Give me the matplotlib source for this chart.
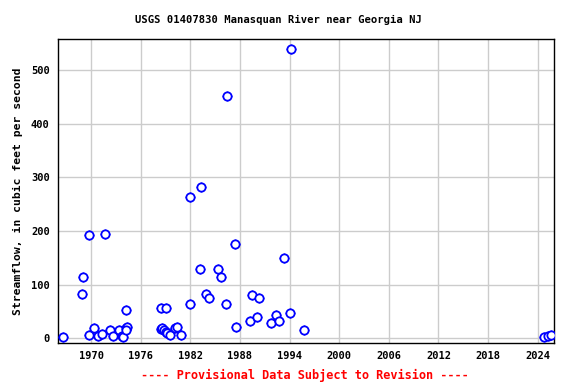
"""Peak streamflow scatter for USGS 01407830 Manasquan River near Georgia NJ."""

import matplotlib

matplotlib.use("Agg")
import matplotlib.pyplot as plt

years = [
    1966.6, 1968.9, 1969.0, 1969.7, 1969.8, 1970.4, 1970.8, 1971.3, 1971.7,
    1972.3, 1972.7, 1973.4, 1973.7, 1973.8, 1974.2, 1974.2, 1974.3, 1974.2,
    1978.5, 1979.1, 1978.4, 1978.6, 1978.8, 1979.1, 1979.2, 1979.5, 1980.1,
    1980.4, 1980.9, 1982.0, 1982.0, 1983.3, 1983.2, 1983.9, 1984.3, 1985.4,
    1985.7, 1986.4, 1986.3, 1987.4, 1987.5, 1989.4, 1990.3, 1989.2, 1990.1,
    1991.8, 1992.4, 1992.7, 1993.3, 1994.1, 1994.2, 1995.7, 2024.7, 2025.3,
    2025.6,
]
flows = [
    2, 82, 114, 192, 6, 19, 4, 9, 194,
    15, 4, 15, 4, 3, 53, 20, 22, 16,
    56, 56, 18, 19, 15, 12, 10, 6, 19,
    22, 6, 263, 65, 282, 129, 82, 76, 130,
    114, 451, 65, 175, 21, 80, 75, 32, 39,
    28, 43, 32, 150, 47, 539, 15, 2, 4,
    6,
]
x_ticks = list(range(1970, 2025, 6))
y_ticks = [0, 100, 200, 300, 400, 500]

MONO = "DejaVu Sans Mono"

fig = plt.figure(figsize=(5.76, 3.84), dpi=100)
ax = fig.add_axes([0.1007, 0.1076, 0.8616, 0.7908])

ax.plot(years, flows, linestyle="none", marker="+", markersize=7.5,
        markeredgewidth=1.0, color="#0000ff", zorder=3)
ax.plot(years, flows, linestyle="none", marker="o", markersize=6,
        markerfacecolor="white", markeredgecolor="#0000ff",
        markeredgewidth=1.3, zorder=4)

ax.set_xlim(1966.0, 2026.0)
ax.set_ylim(-8, 558)
ax.set_xticks(x_ticks)
ax.set_yticks(y_ticks)
ax.grid(True, color="#cccccc", linewidth=1)
ax.set_axisbelow(True)
for spine in ax.spines.values():
    spine.set_color("black")
    spine.set_linewidth(1)
ax.tick_params(axis="both", length=0, pad=6, labelsize=7.5)
for label in ax.get_xticklabels() + ax.get_yticklabels():
    label.set_fontfamily(MONO)
    label.set_fontweight("bold")

fig.text(0.483, 0.947, "USGS 01407830 Manasquan River near Georgia NJ",
         ha="center", va="center",
         fontfamily=MONO, fontweight="bold", fontsize=7.6)
ax.set_ylabel("Streamflow, in cubic feet per second",
              fontfamily=MONO, fontweight="bold", fontsize=8.2, labelpad=6)
fig.text(0.53, 0.023, "---- Provisional Data Subject to Revision ----",
         color="red", ha="center", va="center",
         fontfamily=MONO, fontweight="bold", fontsize=8.6)

fig.savefig("out.png", dpi=100)
